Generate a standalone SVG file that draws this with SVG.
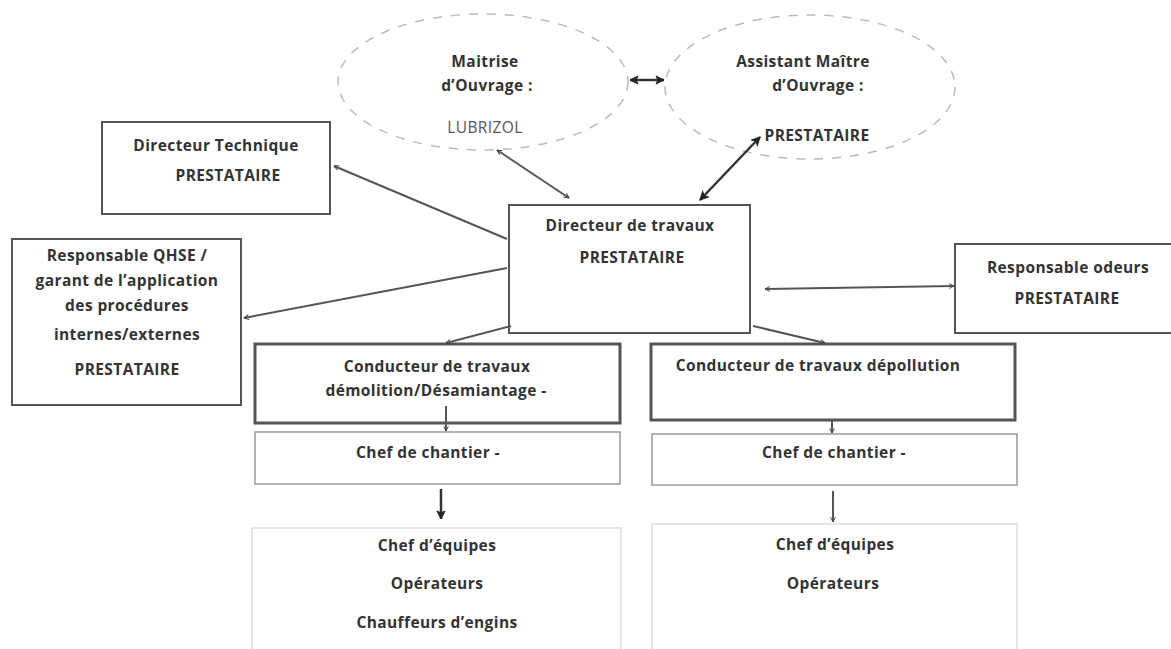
<svg xmlns="http://www.w3.org/2000/svg" width="1171" height="649" viewBox="0 0 1171 649">
<defs>
<marker id="ah" viewBox="0 0 10 10" refX="9" refY="5" markerWidth="6" markerHeight="6" orient="auto-start-reverse" markerUnits="userSpaceOnUse">
<path d="M1,1 L9,5 L1,9" fill="none" stroke="#444" stroke-width="1.6"/>
</marker>
<marker id="ahb" viewBox="0 0 10 10" refX="9" refY="5" markerWidth="10" markerHeight="10" orient="auto-start-reverse" markerUnits="userSpaceOnUse">
<path d="M1,1 L9,5 L1,9 L3,5 Z" fill="#222" stroke="#222" stroke-width="1"/>
</marker>
</defs>
<style>
text{font-family:"Open Sans","Noto Sans",sans-serif;font-weight:bold;font-size:15.5px;letter-spacing:0.4px;fill:#333;text-anchor:middle}
.lt{font-weight:normal;fill:#555}
.box{fill:#fff;stroke:#555;stroke-width:2}
.thick{fill:#fff;stroke:#555;stroke-width:3}
.mid{fill:#fff;stroke:#999;stroke-width:1.5}
.light{fill:#fff;stroke:#ccc;stroke-width:1}
.ell{fill:none;stroke:#bbb;stroke-width:1.5;stroke-dasharray:9 9}
.c{stroke:#555;stroke-width:2;fill:none}
.cb{stroke:#333;stroke-width:2.5;fill:none}
</style>
<rect width="1171" height="649" fill="#fff"/>
<g id="maitrise">
<ellipse class="ell" cx="483" cy="82" rx="145" ry="68"/>
<text x="485" y="67">Maitrise</text>
<text x="487" y="91">d’Ouvrage :</text>
<text x="485" y="133" class="lt">LUBRIZOL</text>
</g>
<g id="assistant">
<ellipse class="ell" cx="810" cy="87" rx="145" ry="72"/>
<text x="803" y="67">Assistant Maître</text>
<text x="818" y="91">d’Ouvrage :</text>
<text x="817" y="141">PRESTATAIRE</text>
</g>
<g id="dir-tech">
<rect class="box" x="102" y="122" width="228" height="92"/>
<text x="216" y="151">Directeur Technique</text>
<text x="228" y="181">PRESTATAIRE</text>
</g>
<g id="qhse">
<rect class="box" x="12" y="239" width="229" height="166"/>
<text x="127" y="261">Responsable QHSE /</text>
<text x="127" y="286">garant de l’application</text>
<text x="127" y="311">des procédures</text>
<text x="127" y="340">internes/externes</text>
<text x="127" y="375">PRESTATAIRE</text>
</g>
<g id="dir-travaux">
<rect class="box" x="509" y="205" width="241" height="128"/>
<text x="630" y="231">Directeur de travaux</text>
<text x="632" y="263">PRESTATAIRE</text>
</g>
<g id="odeurs">
<rect class="box" x="955" y="244" width="220" height="89"/>
<text x="1068" y="273">Responsable odeurs</text>
<text x="1067" y="304">PRESTATAIRE</text>
</g>
<g id="cond-demol">
<rect class="thick" x="255" y="344" width="365" height="79"/>
<text x="437" y="372">Conducteur de travaux</text>
<text x="436" y="396">démolition/Désamiantage -</text>
</g>
<g id="cond-depol">
<rect class="thick" x="651" y="344" width="364" height="76"/>
<text x="818" y="371">Conducteur de travaux dépollution</text>
</g>
<g id="chef-chantier-1">
<rect class="mid" x="255" y="432" width="365" height="52"/>
<text x="428" y="458">Chef de chantier -</text>
</g>
<g id="chef-chantier-2">
<rect class="mid" x="652" y="434" width="365" height="51"/>
<text x="834" y="458">Chef de chantier -</text>
</g>
<g id="equipes-1">
<rect class="light" x="252" y="528" width="369" height="125"/>
<text x="437" y="551">Chef d’équipes</text>
<text x="437" y="589">Opérateurs</text>
<text x="437" y="628">Chauffeurs d’engins</text>
</g>
<g id="equipes-2">
<rect class="light" x="652" y="524" width="365" height="129"/>
<text x="835" y="550">Chef d’équipes</text>
<text x="833" y="589">Opérateurs</text>
</g>
<g id="connectors">
<line class="cb" x1="630" y1="80" x2="664" y2="80" marker-start="url(#ahb)" marker-end="url(#ahb)"/>
<line class="c" x1="507" y1="239" x2="334" y2="166" marker-end="url(#ah)"/>
<line class="c" x1="569" y1="198" x2="497" y2="150" marker-start="url(#ah)" marker-end="url(#ah)"/>
<line class="cb" x1="700" y1="200" x2="760" y2="137" marker-start="url(#ahb)" marker-end="url(#ahb)"/>
<line class="c" x1="507" y1="268" x2="244" y2="318" marker-end="url(#ah)"/>
<line class="c" x1="765" y1="289" x2="954" y2="286" marker-start="url(#ah)" marker-end="url(#ah)"/>
<line class="c" x1="511" y1="326" x2="446" y2="343" marker-end="url(#ah)"/>
<line class="c" x1="753" y1="326" x2="825" y2="343" marker-end="url(#ah)"/>
<line class="c" x1="446" y1="406" x2="446" y2="431" marker-end="url(#ah)"/>
<line class="c" x1="832" y1="421" x2="832" y2="433" marker-end="url(#ah)"/>
<line class="cb" x1="441" y1="489" x2="441" y2="519" marker-end="url(#ahb)"/>
<line class="c" x1="833" y1="491" x2="833" y2="522" marker-end="url(#ah)"/>
</g>
</svg>
